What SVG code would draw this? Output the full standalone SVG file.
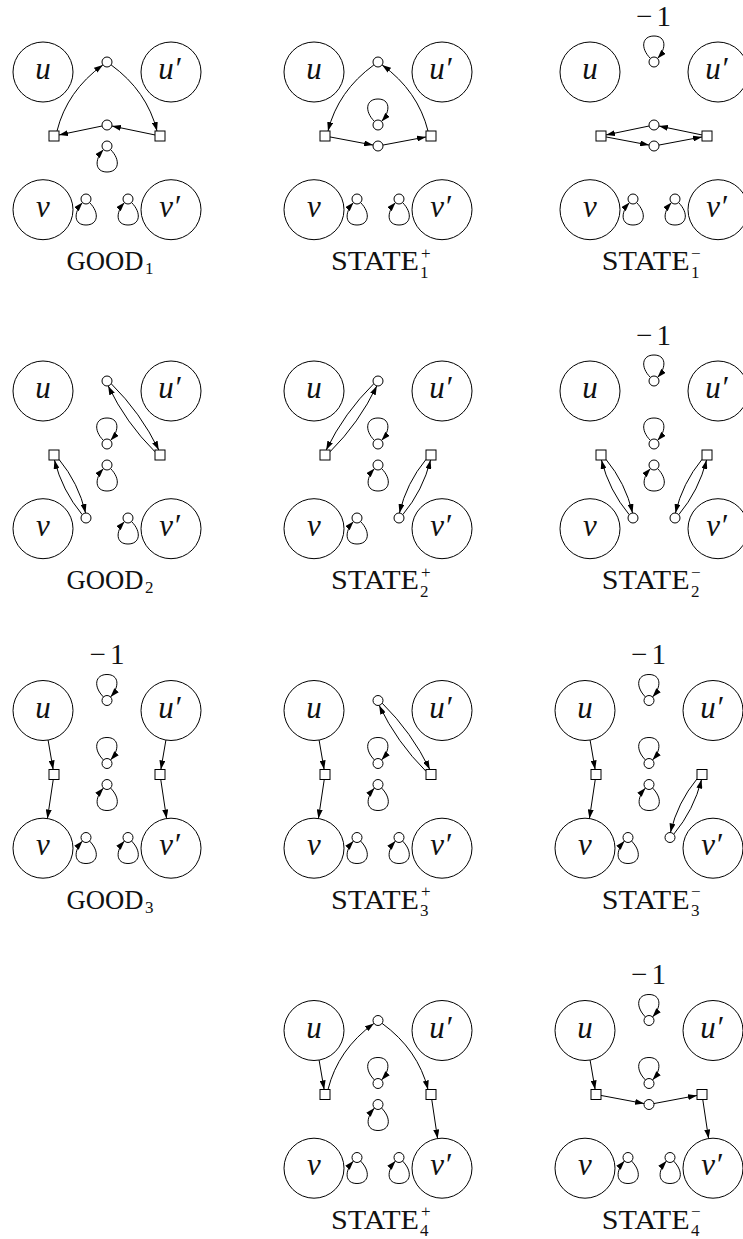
<svg xmlns="http://www.w3.org/2000/svg" width="743" height="1239" viewBox="0 0 743 1239">
<defs>
<marker id="ah" viewBox="0 0 9 6" refX="9" refY="3" markerWidth="9" markerHeight="6" orient="auto" markerUnits="userSpaceOnUse"><path d="M0,0 L9,3 L0,6 z" fill="#000"/></marker>
<style>
.big{fill:none;stroke:#000;stroke-width:1}
.sm{fill:#fff;stroke:#000;stroke-width:1}
.sq{fill:#fff;stroke:#000;stroke-width:1}
.edges path{fill:none;stroke:#000;stroke-width:1;marker-end:url(#ah)}
.nl{font-family:"Liberation Serif",serif;font-style:italic;font-size:31px;text-anchor:middle;fill:#111}
.cap{font-family:"Liberation Serif",serif;font-size:27px;fill:#111}
.sc{font-family:"Liberation Serif",serif;font-size:17px;fill:#111}
.neg{font-family:"Liberation Serif",serif;font-size:29px;text-anchor:middle;letter-spacing:4px;fill:#111}
</style>
</defs>
<rect width="743" height="1239" fill="#fff"/>

<!-- GOOD1 -->
<g id="good1" transform="translate(0,0)">
<g class="edges" id="good1-edges">
<path d="M57,131 Q67,91 102.9,64.9"/>
<path d="M111.1,64.9 Q147,91 157,131"/>
<path d="M155,134.96 L111.9,126"/>
<path d="M102.1,126 L59,134.96"/>
<path d="M110.5,149.5 C121,160 119,172 107,172 C95,172 94,160 103.5,149.5"/>
<path d="M89.5,202.5 C100,213 98,225 86,225 C74,225 73,213 82.5,202.5"/>
<path d="M131.5,202.5 C142,213 140,225 128,225 C116,225 115,213 124.5,202.5"/>
</g>
<g id="good1-u"><circle class="big" cx="43" cy="72" r="30"/><text class="nl" x="43" y="79">u</text></g>
<g id="good1-u2"><circle class="big" cx="171" cy="72" r="30"/><text class="nl" x="169.5" y="79">u′</text></g>
<g id="good1-v"><circle class="big" cx="43" cy="209.7" r="30"/><text class="nl" x="43" y="216.5">v</text></g>
<g id="good1-v2"><circle class="big" cx="171" cy="209.7" r="30"/><text class="nl" x="169.5" y="216.5">v′</text></g>
<g id="good1-t"><circle class="sm" cx="107" cy="62" r="5"/></g>
<g id="good1-m"><circle class="sm" cx="107" cy="125" r="5"/></g>
<g id="good1-l"><circle class="sm" cx="107" cy="146" r="5"/></g>
<g id="good1-sl"><rect class="sq" x="49" y="131" width="10" height="10"/></g>
<g id="good1-sr"><rect class="sq" x="155" y="131" width="10" height="10"/></g>
<g id="good1-vl"><circle class="sm" cx="86" cy="199" r="5"/></g>
<g id="good1-vr"><circle class="sm" cx="128" cy="199" r="5"/></g>
<g id="good1-label"><text class="cap" x="66.5" y="270" textLength="77" lengthAdjust="spacingAndGlyphs">GOOD</text><text class="sc" x="145" y="274">1</text></g>
</g>

<!-- STATE1+ -->
<g id="state1p" transform="translate(271,0)">
<g class="edges" id="state1p-edges">
<path d="M102.9,64.9 Q67,91 57,131"/>
<path d="M157,131 Q147,91 111.1,64.9"/>
<path d="M59,136.94 L102.1,145.07"/>
<path d="M111.9,145.07 L155,136.94"/>
<path d="M103.5,121.5 C93,111 95,99 107,99 C119,99 120,111 110.5,121.5"/>
<path d="M89.5,202.5 C100,213 98,225 86,225 C74,225 73,213 82.5,202.5"/>
<path d="M131.5,202.5 C142,213 140,225 128,225 C116,225 115,213 124.5,202.5"/>
</g>
<g id="state1p-u"><circle class="big" cx="43" cy="72" r="30"/><text class="nl" x="43" y="79">u</text></g>
<g id="state1p-u2"><circle class="big" cx="171" cy="72" r="30"/><text class="nl" x="169.5" y="79">u′</text></g>
<g id="state1p-v"><circle class="big" cx="43" cy="209.7" r="30"/><text class="nl" x="43" y="216.5">v</text></g>
<g id="state1p-v2"><circle class="big" cx="171" cy="209.7" r="30"/><text class="nl" x="169.5" y="216.5">v′</text></g>
<g id="state1p-t"><circle class="sm" cx="107" cy="62" r="5"/></g>
<g id="state1p-m"><circle class="sm" cx="107" cy="125" r="5"/></g>
<g id="state1p-b"><circle class="sm" cx="107" cy="146" r="5"/></g>
<g id="state1p-sl"><rect class="sq" x="49" y="131" width="10" height="10"/></g>
<g id="state1p-sr"><rect class="sq" x="155" y="131" width="10" height="10"/></g>
<g id="state1p-vl"><circle class="sm" cx="86" cy="199" r="5"/></g>
<g id="state1p-vr"><circle class="sm" cx="128" cy="199" r="5"/></g>
<g id="state1p-label"><text class="cap" x="60" y="270" textLength="88" lengthAdjust="spacingAndGlyphs">STATE</text><text class="sc" x="150" y="258.5">+</text><text class="sc" x="149" y="277.5">1</text></g>
</g>

<!-- STATE1- -->
<g id="state1m" transform="translate(547,0)">
<text class="neg" x="108.5" y="25.5">−1</text>
<g class="edges" id="state1m-edges">
<path d="M155,134.96 L111.9,126"/>
<path d="M102.1,126 L59,134.96"/>
<path d="M59,136.94 L102.1,145.07"/>
<path d="M111.9,145.07 L155,136.94"/>
<path d="M103.5,58.5 C93,48 95,36 107,36 C119,36 120,48 110.5,58.5"/>
<path d="M89.5,202.5 C100,213 98,225 86,225 C74,225 73,213 82.5,202.5"/>
<path d="M131.5,202.5 C142,213 140,225 128,225 C116,225 115,213 124.5,202.5"/>
</g>
<g id="state1m-u"><circle class="big" cx="43" cy="72" r="30"/><text class="nl" x="43" y="79">u</text></g>
<g id="state1m-u2"><circle class="big" cx="171" cy="72" r="30"/><text class="nl" x="169.5" y="79">u′</text></g>
<g id="state1m-v"><circle class="big" cx="43" cy="209.7" r="30"/><text class="nl" x="43" y="216.5">v</text></g>
<g id="state1m-v2"><circle class="big" cx="171" cy="209.7" r="30"/><text class="nl" x="169.5" y="216.5">v′</text></g>
<g id="state1m-t"><circle class="sm" cx="107" cy="62" r="5"/></g>
<g id="state1m-m1"><circle class="sm" cx="107" cy="125" r="5"/></g>
<g id="state1m-m2"><circle class="sm" cx="107" cy="146" r="5"/></g>
<g id="state1m-sl"><rect class="sq" x="49" y="131" width="10" height="10"/></g>
<g id="state1m-sr"><rect class="sq" x="155" y="131" width="10" height="10"/></g>
<g id="state1m-vl"><circle class="sm" cx="86" cy="199" r="5"/></g>
<g id="state1m-vr"><circle class="sm" cx="128" cy="199" r="5"/></g>
<g id="state1m-label"><text class="cap" x="54.7" y="270" textLength="88" lengthAdjust="spacingAndGlyphs">STATE</text><text class="sc" x="144" y="258.5">−</text><text class="sc" x="144" y="277.5">1</text></g>
</g>

<!-- GOOD2 -->
<g id="good2" transform="translate(0,319)">
<g class="edges" id="good2-edges">
<path d="M111.2,64.7 Q140.7,93.8 158.8,131"/>
<path d="M155,132.8 Q125.9,103.9 108.2,66.9"/>
<path d="M59,140.4 Q78.5,164 85.55,194"/>
<path d="M82.24,195.7 Q62.1,171.5 54.45,141"/>
<path d="M103.5,121.5 C93,111 95,99 107,99 C119,99 120,111 110.5,121.5"/>
<path d="M110.5,149.5 C121,160 119,172 107,172 C95,172 94,160 103.5,149.5"/>
<path d="M131.5,202.5 C142,213 140,225 128,225 C116,225 115,213 124.5,202.5"/>
</g>
<g id="good2-u"><circle class="big" cx="43" cy="72" r="30"/><text class="nl" x="43" y="79">u</text></g>
<g id="good2-u2"><circle class="big" cx="171" cy="72" r="30"/><text class="nl" x="169.5" y="79">u′</text></g>
<g id="good2-v"><circle class="big" cx="43" cy="209.7" r="30"/><text class="nl" x="43" y="216.5">v</text></g>
<g id="good2-v2"><circle class="big" cx="171" cy="209.7" r="30"/><text class="nl" x="169.5" y="216.5">v′</text></g>
<g id="good2-t"><circle class="sm" cx="107" cy="62" r="5"/></g>
<g id="good2-m"><circle class="sm" cx="107" cy="125" r="5"/></g>
<g id="good2-l"><circle class="sm" cx="107" cy="146" r="5"/></g>
<g id="good2-sl"><rect class="sq" x="49" y="131" width="10" height="10"/></g>
<g id="good2-sr"><rect class="sq" x="155" y="131" width="10" height="10"/></g>
<g id="good2-vl"><circle class="sm" cx="86" cy="199" r="5"/></g>
<g id="good2-vr"><circle class="sm" cx="128" cy="199" r="5"/></g>
<g id="good2-label"><text class="cap" x="66.5" y="270" textLength="77" lengthAdjust="spacingAndGlyphs">GOOD</text><text class="sc" x="145" y="274">2</text></g>
</g>

<!-- STATE2+ -->
<g id="state2p" transform="translate(271,319)">
<g class="edges" id="state2p-edges">
<path d="M102.8,64.7 Q73.3,93.8 55.2,131"/>
<path d="M59,132.8 Q88.1,103.9 105.8,66.9"/>
<path d="M155,140.4 Q135.5,164 128.45,194"/>
<path d="M131.76,195.7 Q151.9,171.5 159.55,141"/>
<path d="M103.5,121.5 C93,111 95,99 107,99 C119,99 120,111 110.5,121.5"/>
<path d="M110.5,149.5 C121,160 119,172 107,172 C95,172 94,160 103.5,149.5"/>
<path d="M89.5,202.5 C100,213 98,225 86,225 C74,225 73,213 82.5,202.5"/>
</g>
<g id="state2p-u"><circle class="big" cx="43" cy="72" r="30"/><text class="nl" x="43" y="79">u</text></g>
<g id="state2p-u2"><circle class="big" cx="171" cy="72" r="30"/><text class="nl" x="169.5" y="79">u′</text></g>
<g id="state2p-v"><circle class="big" cx="43" cy="209.7" r="30"/><text class="nl" x="43" y="216.5">v</text></g>
<g id="state2p-v2"><circle class="big" cx="171" cy="209.7" r="30"/><text class="nl" x="169.5" y="216.5">v′</text></g>
<g id="state2p-t"><circle class="sm" cx="107" cy="62" r="5"/></g>
<g id="state2p-m"><circle class="sm" cx="107" cy="125" r="5"/></g>
<g id="state2p-l"><circle class="sm" cx="107" cy="146" r="5"/></g>
<g id="state2p-sl"><rect class="sq" x="49" y="131" width="10" height="10"/></g>
<g id="state2p-sr"><rect class="sq" x="155" y="131" width="10" height="10"/></g>
<g id="state2p-vl"><circle class="sm" cx="86" cy="199" r="5"/></g>
<g id="state2p-vr"><circle class="sm" cx="128" cy="199" r="5"/></g>
<g id="state2p-label"><text class="cap" x="60" y="270" textLength="88" lengthAdjust="spacingAndGlyphs">STATE</text><text class="sc" x="150" y="258.5">+</text><text class="sc" x="149" y="277.5">2</text></g>
</g>

<!-- STATE2- -->
<g id="state2m" transform="translate(547,319)">
<text class="neg" x="108.5" y="25.5">−1</text>
<g class="edges" id="state2m-edges">
<path d="M59,140.4 Q78.5,164 85.55,194"/>
<path d="M82.24,195.7 Q62.1,171.5 54.45,141"/>
<path d="M155,140.4 Q135.5,164 128.45,194"/>
<path d="M131.76,195.7 Q151.9,171.5 159.55,141"/>
<path d="M103.5,58.5 C93,48 95,36 107,36 C119,36 120,48 110.5,58.5"/>
<path d="M103.5,121.5 C93,111 95,99 107,99 C119,99 120,111 110.5,121.5"/>
<path d="M110.5,149.5 C121,160 119,172 107,172 C95,172 94,160 103.5,149.5"/>
</g>
<g id="state2m-u"><circle class="big" cx="43" cy="72" r="30"/><text class="nl" x="43" y="79">u</text></g>
<g id="state2m-u2"><circle class="big" cx="171" cy="72" r="30"/><text class="nl" x="169.5" y="79">u′</text></g>
<g id="state2m-v"><circle class="big" cx="43" cy="209.7" r="30"/><text class="nl" x="43" y="216.5">v</text></g>
<g id="state2m-v2"><circle class="big" cx="171" cy="209.7" r="30"/><text class="nl" x="169.5" y="216.5">v′</text></g>
<g id="state2m-t"><circle class="sm" cx="107" cy="62" r="5"/></g>
<g id="state2m-m"><circle class="sm" cx="107" cy="125" r="5"/></g>
<g id="state2m-l"><circle class="sm" cx="107" cy="146" r="5"/></g>
<g id="state2m-sl"><rect class="sq" x="49" y="131" width="10" height="10"/></g>
<g id="state2m-sr"><rect class="sq" x="155" y="131" width="10" height="10"/></g>
<g id="state2m-vl"><circle class="sm" cx="86" cy="199" r="5"/></g>
<g id="state2m-vr"><circle class="sm" cx="128" cy="199" r="5"/></g>
<g id="state2m-label"><text class="cap" x="54.7" y="270" textLength="88" lengthAdjust="spacingAndGlyphs">STATE</text><text class="sc" x="144" y="258.5">−</text><text class="sc" x="144" y="277.5">2</text></g>
</g>

<!-- GOOD3 -->
<g id="good3" transform="translate(0,638.5)">
<text class="neg" x="109" y="25.5">−1</text>
<g class="edges" id="good3-edges">
<path d="M48.08,101.57 L53.14,131"/>
<path d="M53.25,141 L47.43,180"/>
<path d="M165.92,101.57 L160.86,131"/>
<path d="M160.75,141 L166.57,180"/>
<path d="M103.5,58.5 C93,48 95,36 107,36 C119,36 120,48 110.5,58.5"/>
<path d="M103.5,121.5 C93,111 95,99 107,99 C119,99 120,111 110.5,121.5"/>
<path d="M110.5,149.5 C121,160 119,172 107,172 C95,172 94,160 103.5,149.5"/>
<path d="M89.5,202.5 C100,213 98,225 86,225 C74,225 73,213 82.5,202.5"/>
<path d="M131.5,202.5 C142,213 140,225 128,225 C116,225 115,213 124.5,202.5"/>
</g>
<g id="good3-u"><circle class="big" cx="43" cy="72" r="30"/><text class="nl" x="43" y="79">u</text></g>
<g id="good3-u2"><circle class="big" cx="171" cy="72" r="30"/><text class="nl" x="169.5" y="79">u′</text></g>
<g id="good3-v"><circle class="big" cx="43" cy="209.7" r="30"/><text class="nl" x="43" y="216.5">v</text></g>
<g id="good3-v2"><circle class="big" cx="171" cy="209.7" r="30"/><text class="nl" x="169.5" y="216.5">v′</text></g>
<g id="good3-t"><circle class="sm" cx="107" cy="62" r="5"/></g>
<g id="good3-m"><circle class="sm" cx="107" cy="125" r="5"/></g>
<g id="good3-l"><circle class="sm" cx="107" cy="146" r="5"/></g>
<g id="good3-sl"><rect class="sq" x="49" y="131" width="10" height="10"/></g>
<g id="good3-sr"><rect class="sq" x="155" y="131" width="10" height="10"/></g>
<g id="good3-vl"><circle class="sm" cx="86" cy="199" r="5"/></g>
<g id="good3-vr"><circle class="sm" cx="128" cy="199" r="5"/></g>
<g id="good3-label"><text class="cap" x="66.5" y="270" textLength="77" lengthAdjust="spacingAndGlyphs">GOOD</text><text class="sc" x="145" y="274">3</text></g>
</g>

<!-- STATE3+ -->
<g id="state3p" transform="translate(271,638.5)">
<g class="edges" id="state3p-edges">
<path d="M48.08,101.57 L53.14,131"/>
<path d="M53.25,141 L47.43,180"/>
<path d="M111.2,64.7 Q140.7,93.8 158.8,131"/>
<path d="M155,132.8 Q125.9,103.9 108.2,66.9"/>
<path d="M103.5,121.5 C93,111 95,99 107,99 C119,99 120,111 110.5,121.5"/>
<path d="M110.5,149.5 C121,160 119,172 107,172 C95,172 94,160 103.5,149.5"/>
<path d="M89.5,202.5 C100,213 98,225 86,225 C74,225 73,213 82.5,202.5"/>
<path d="M131.5,202.5 C142,213 140,225 128,225 C116,225 115,213 124.5,202.5"/>
</g>
<g id="state3p-u"><circle class="big" cx="43" cy="72" r="30"/><text class="nl" x="43" y="79">u</text></g>
<g id="state3p-u2"><circle class="big" cx="171" cy="72" r="30"/><text class="nl" x="169.5" y="79">u′</text></g>
<g id="state3p-v"><circle class="big" cx="43" cy="209.7" r="30"/><text class="nl" x="43" y="216.5">v</text></g>
<g id="state3p-v2"><circle class="big" cx="171" cy="209.7" r="30"/><text class="nl" x="169.5" y="216.5">v′</text></g>
<g id="state3p-t"><circle class="sm" cx="107" cy="62" r="5"/></g>
<g id="state3p-m"><circle class="sm" cx="107" cy="125" r="5"/></g>
<g id="state3p-l"><circle class="sm" cx="107" cy="146" r="5"/></g>
<g id="state3p-sl"><rect class="sq" x="49" y="131" width="10" height="10"/></g>
<g id="state3p-sr"><rect class="sq" x="155" y="131" width="10" height="10"/></g>
<g id="state3p-vl"><circle class="sm" cx="86" cy="199" r="5"/></g>
<g id="state3p-vr"><circle class="sm" cx="128" cy="199" r="5"/></g>
<g id="state3p-label"><text class="cap" x="60" y="270" textLength="88" lengthAdjust="spacingAndGlyphs">STATE</text><text class="sc" x="150" y="258.5">+</text><text class="sc" x="149" y="277.5">3</text></g>
</g>

<!-- STATE3- -->
<g id="state3m" transform="translate(542,638.5)">
<text class="neg" x="108.5" y="25.5">−1</text>
<g class="edges" id="state3m-edges">
<path d="M48.08,101.57 L53.14,131"/>
<path d="M53.25,141 L47.43,180"/>
<path d="M155,140.4 Q135.5,164 128.45,194"/>
<path d="M131.76,195.7 Q151.9,171.5 159.55,141"/>
<path d="M103.5,58.5 C93,48 95,36 107,36 C119,36 120,48 110.5,58.5"/>
<path d="M103.5,121.5 C93,111 95,99 107,99 C119,99 120,111 110.5,121.5"/>
<path d="M110.5,149.5 C121,160 119,172 107,172 C95,172 94,160 103.5,149.5"/>
<path d="M89.5,202.5 C100,213 98,225 86,225 C74,225 73,213 82.5,202.5"/>
</g>
<g id="state3m-u"><circle class="big" cx="43" cy="72" r="30"/><text class="nl" x="43" y="79">u</text></g>
<g id="state3m-u2"><circle class="big" cx="171" cy="72" r="30"/><text class="nl" x="169.5" y="79">u′</text></g>
<g id="state3m-v"><circle class="big" cx="43" cy="209.7" r="30"/><text class="nl" x="43" y="216.5">v</text></g>
<g id="state3m-v2"><circle class="big" cx="171" cy="209.7" r="30"/><text class="nl" x="169.5" y="216.5">v′</text></g>
<g id="state3m-t"><circle class="sm" cx="107" cy="62" r="5"/></g>
<g id="state3m-m"><circle class="sm" cx="107" cy="125" r="5"/></g>
<g id="state3m-l"><circle class="sm" cx="107" cy="146" r="5"/></g>
<g id="state3m-sl"><rect class="sq" x="49" y="131" width="10" height="10"/></g>
<g id="state3m-sr"><rect class="sq" x="155" y="131" width="10" height="10"/></g>
<g id="state3m-vl"><circle class="sm" cx="86" cy="199" r="5"/></g>
<g id="state3m-vr"><circle class="sm" cx="128" cy="199" r="5"/></g>
<g id="state3m-label"><text class="cap" x="59.7" y="270" textLength="88" lengthAdjust="spacingAndGlyphs">STATE</text><text class="sc" x="149" y="258.5">−</text><text class="sc" x="149" y="277.5">3</text></g>
</g>

<!-- STATE4+ -->
<g id="state4p" transform="translate(271,958.5)">
<g class="edges" id="state4p-edges">
<path d="M48.08,101.57 L53.14,131"/>
<path d="M57,131 Q67,91 102.9,64.9"/>
<path d="M111.1,64.9 Q147,91 157,131"/>
<path d="M160.75,141 L166.57,180"/>
<path d="M103.5,121.5 C93,111 95,99 107,99 C119,99 120,111 110.5,121.5"/>
<path d="M110.5,149.5 C121,160 119,172 107,172 C95,172 94,160 103.5,149.5"/>
<path d="M89.5,202.5 C100,213 98,225 86,225 C74,225 73,213 82.5,202.5"/>
<path d="M131.5,202.5 C142,213 140,225 128,225 C116,225 115,213 124.5,202.5"/>
</g>
<g id="state4p-u"><circle class="big" cx="43" cy="72" r="30"/><text class="nl" x="43" y="79">u</text></g>
<g id="state4p-u2"><circle class="big" cx="171" cy="72" r="30"/><text class="nl" x="169.5" y="79">u′</text></g>
<g id="state4p-v"><circle class="big" cx="43" cy="209.7" r="30"/><text class="nl" x="43" y="216.5">v</text></g>
<g id="state4p-v2"><circle class="big" cx="171" cy="209.7" r="30"/><text class="nl" x="169.5" y="216.5">v′</text></g>
<g id="state4p-t"><circle class="sm" cx="107" cy="62" r="5"/></g>
<g id="state4p-m"><circle class="sm" cx="107" cy="125" r="5"/></g>
<g id="state4p-l"><circle class="sm" cx="107" cy="146" r="5"/></g>
<g id="state4p-sl"><rect class="sq" x="49" y="131" width="10" height="10"/></g>
<g id="state4p-sr"><rect class="sq" x="155" y="131" width="10" height="10"/></g>
<g id="state4p-vl"><circle class="sm" cx="86" cy="199" r="5"/></g>
<g id="state4p-vr"><circle class="sm" cx="128" cy="199" r="5"/></g>
<g id="state4p-label"><text class="cap" x="60" y="270" textLength="88" lengthAdjust="spacingAndGlyphs">STATE</text><text class="sc" x="150" y="258.5">+</text><text class="sc" x="149" y="277.5">4</text></g>
</g>

<!-- STATE4- -->
<g id="state4m" transform="translate(542,958.5)">
<text class="neg" x="108.5" y="25.5">−1</text>
<g class="edges" id="state4m-edges">
<path d="M48.08,101.57 L53.14,131"/>
<path d="M59,136.94 L102.1,145.07"/>
<path d="M111.9,145.07 L155,136.94"/>
<path d="M160.75,141 L166.57,180"/>
<path d="M103.5,58.5 C93,48 95,36 107,36 C119,36 120,48 110.5,58.5"/>
<path d="M103.5,121.5 C93,111 95,99 107,99 C119,99 120,111 110.5,121.5"/>
<path d="M89.5,202.5 C100,213 98,225 86,225 C74,225 73,213 82.5,202.5"/>
<path d="M131.5,202.5 C142,213 140,225 128,225 C116,225 115,213 124.5,202.5"/>
</g>
<g id="state4m-u"><circle class="big" cx="43" cy="72" r="30"/><text class="nl" x="43" y="79">u</text></g>
<g id="state4m-u2"><circle class="big" cx="171" cy="72" r="30"/><text class="nl" x="169.5" y="79">u′</text></g>
<g id="state4m-v"><circle class="big" cx="43" cy="209.7" r="30"/><text class="nl" x="43" y="216.5">v</text></g>
<g id="state4m-v2"><circle class="big" cx="171" cy="209.7" r="30"/><text class="nl" x="169.5" y="216.5">v′</text></g>
<g id="state4m-t"><circle class="sm" cx="107" cy="62" r="5"/></g>
<g id="state4m-m"><circle class="sm" cx="107" cy="125" r="5"/></g>
<g id="state4m-b"><circle class="sm" cx="107" cy="146" r="5"/></g>
<g id="state4m-sl"><rect class="sq" x="49" y="131" width="10" height="10"/></g>
<g id="state4m-sr"><rect class="sq" x="155" y="131" width="10" height="10"/></g>
<g id="state4m-vl"><circle class="sm" cx="86" cy="199" r="5"/></g>
<g id="state4m-vr"><circle class="sm" cx="128" cy="199" r="5"/></g>
<g id="state4m-label"><text class="cap" x="59.7" y="270" textLength="88" lengthAdjust="spacingAndGlyphs">STATE</text><text class="sc" x="149" y="258.5">−</text><text class="sc" x="149" y="277.5">4</text></g>
</g>
</svg>
